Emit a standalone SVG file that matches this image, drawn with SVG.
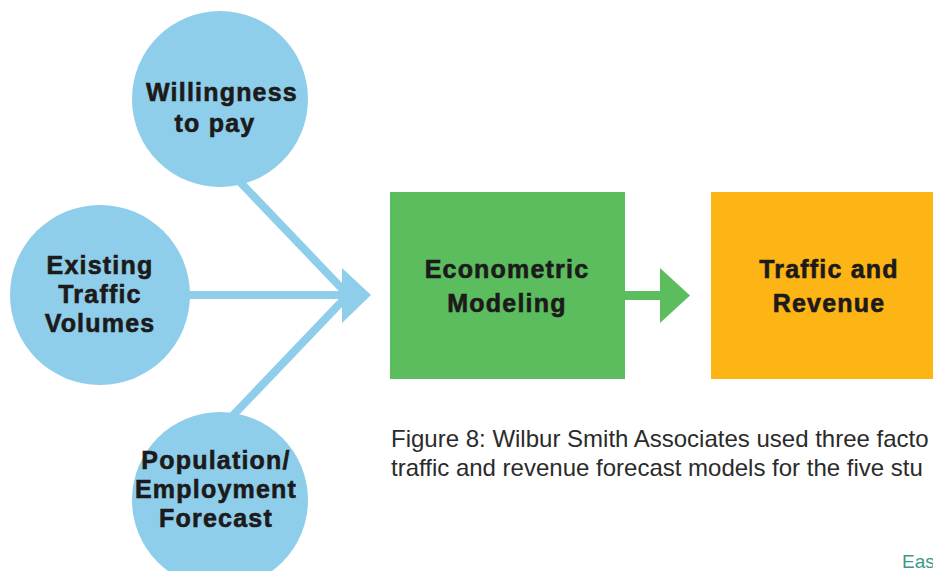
<svg xmlns="http://www.w3.org/2000/svg" width="933" height="571" viewBox="0 0 933 571">
<style>
.circ{fill:#8ECEEA}
.lbl{font-family:"Liberation Sans",Arial,sans-serif;font-weight:bold;font-size:25px;letter-spacing:1.2px;fill:#1c1a1a;text-anchor:middle;stroke:#1c1a1a;stroke-width:0.6}
.cap{font-family:"Liberation Sans",Arial,sans-serif;font-size:24px;fill:#2b2b2b}
.blue{stroke:#8ECEEA;stroke-width:8;fill:none}
</style>
<rect width="933" height="571" fill="#ffffff"/>
<g id="connectors">
<line class="blue" x1="219" y1="160" x2="349" y2="296"/>
<line class="blue" x1="219" y1="430" x2="349" y2="294"/>
<line class="blue" x1="150" y1="295" x2="346" y2="295"/>
<polygon points="342,268 371,295 342,323" fill="#8ECEEA"/>
<rect x="624" y="291" width="38" height="9" fill="#5BBD5E"/>
<polygon points="660,268 690,295.5 660,323" fill="#5BBD5E"/>
</g>
<g id="willingness">
<circle class="circ" cx="220" cy="99" r="88"/>
<text class="lbl" x="222" y="101">Willingness</text>
<text class="lbl" x="215" y="132">to pay</text>
</g>
<g id="existing">
<circle class="circ" cx="100" cy="295" r="90"/>
<text class="lbl" x="100" y="274">Existing</text>
<text class="lbl" x="100" y="303">Traffic</text>
<text class="lbl" x="100" y="332">Volumes</text>
</g>
<g id="population">
<circle class="circ" cx="220" cy="500" r="88"/>
<text class="lbl" x="216" y="469">Population/</text>
<text class="lbl" x="216" y="498">Employment</text>
<text class="lbl" x="216" y="527">Forecast</text>
</g>
<g id="econometric">
<rect x="390" y="192" width="235" height="187" fill="#5BBD5E"/>
<text class="lbl" x="507" y="278">Econometric</text>
<text class="lbl" x="507" y="312">Modeling</text>
</g>
<g id="traffic">
<rect x="711" y="192" width="230" height="187" fill="#FDB415"/>
<text class="lbl" x="829" y="278">Traffic and</text>
<text class="lbl" x="829" y="312">Revenue</text>
</g>
<g id="caption">
<text class="cap" x="391" y="447">Figure 8: Wilbur Smith Associates used three facto</text>
<text class="cap" x="391" y="476">traffic and revenue forecast models for the five stu</text>
<text x="902" y="568" font-family="Liberation Sans, Arial, sans-serif" font-size="19" fill="#3A9A8A">Eas</text>
</g>
</svg>
